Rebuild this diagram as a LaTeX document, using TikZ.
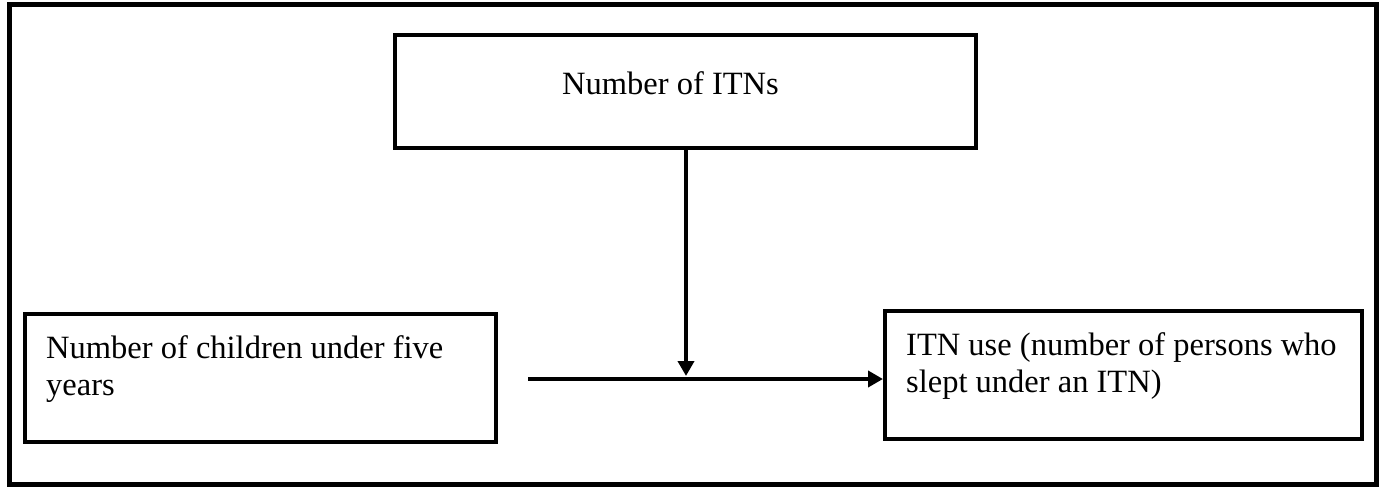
\documentclass[tikz,border=0pt]{standalone}
\usepackage{fontspec}
\setmainfont{Liberation Serif}
\usetikzlibrary{arrows.meta}
\begin{document}
\begin{tikzpicture}[x=1pt,y=-1pt,
  font=\fontsize{32.5}{37}\selectfont,
  box/.style={draw=black,line width=4pt,rectangle,inner sep=0pt},
  txt/.style={anchor=base west,align=left,inner sep=0pt},
  conn/.style={draw=black,line width=4pt,-{Triangle[length=15pt,width=16pt]}}]
\useasboundingbox (0,0) rectangle (1386,487);
% outer frame
\draw[line width=5pt] (9.5,4.5) rectangle (1376.5,484.5);
% boxes
\node[box,minimum width=581pt,minimum height=113pt] (itns) at (685.5,91.5) {};
\node[box,minimum width=471pt,minimum height=128pt] (kids) at (260.5,378) {};
\node[box,minimum width=477pt,minimum height=128pt] (use) at (1123.5,375) {};
% labels (base anchor sits on the last line)
\node[txt] (itnsT) at (562,94) {Number of ITNs};
\node[txt] (kidsT) at (46,395) {Number of children under five\\years};
\node[txt] (useT) at (906,392) {ITN use (number of persons who\\slept under an ITN)};
% connectors
\coordinate (start) at (528,379);
\coordinate (meet) at (686,376);
\draw[conn] (itns.south -| meet) -- (meet);
\draw[conn] (start) -- (start -| use.west);
\end{tikzpicture}
\end{document}
